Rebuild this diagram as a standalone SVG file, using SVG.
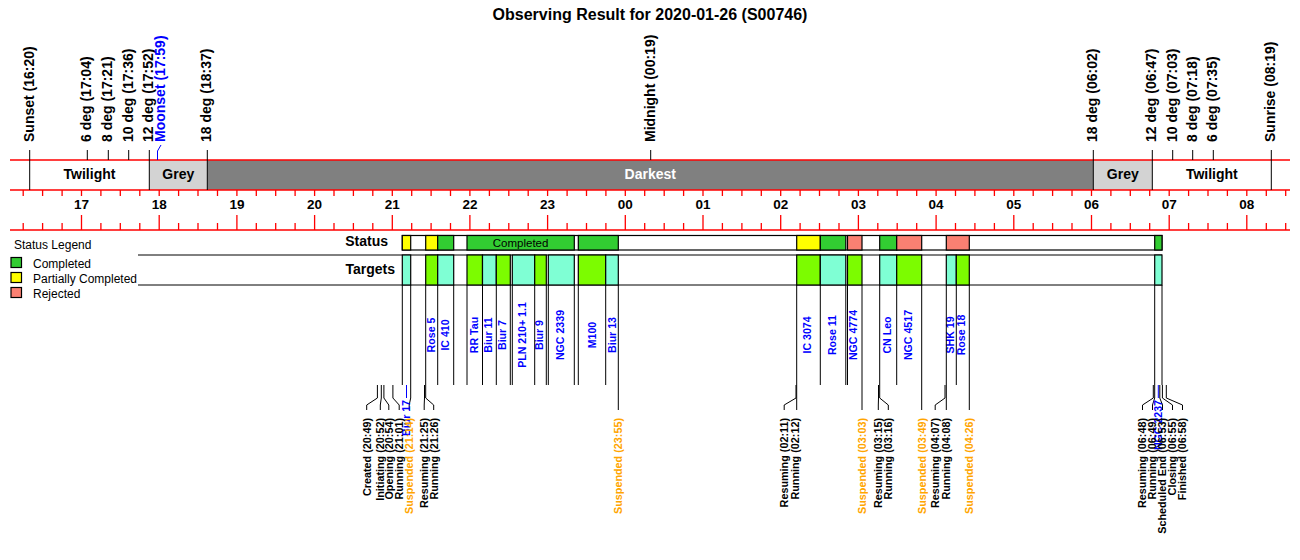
<svg xmlns="http://www.w3.org/2000/svg" width="1300" height="560" viewBox="0 0 1300 560">
<style>
text{font-family:"Liberation Sans",Arial,sans-serif;fill:#000}
.title{font-size:16px;font-weight:bold}
.top{font-size:14px;font-weight:bold}
.band{font-size:14px;font-weight:bold;text-anchor:middle}
.hr{font-size:13.5px;font-weight:bold;text-anchor:middle}
.tl{font-size:10.6px;font-weight:bold;fill:#0000FF;text-anchor:middle}
.ev{font-size:10.8px;font-weight:bold;text-anchor:end}
.susp{fill:#FFA500}
.blue{fill:#0000FF}
.leg{font-size:12px}
.rowlab{font-size:14px;font-weight:bold;text-anchor:end}
.red{stroke:#FF0000;stroke-width:1.3;fill:none}
.blk{stroke:#000;stroke-width:1;fill:none}
.box{stroke:#000;stroke-width:1.2}
.aq{fill:#7FFFD4}.lm{fill:#7CFC00}.gr{fill:#32CD32}.ye{fill:#FFFF00}.sa{fill:#FA8072}.wh{fill:#FFFFFF}
</style>
<rect width="1300" height="560" fill="#FFFFFF"/>
<text class="title" x="650" y="20" text-anchor="middle">Observing Result for 2020-01-26 (S00746)</text>

<g id="band">
<rect x="149.3" y="160" width="58" height="30" fill="#D3D3D3"/>
<rect x="207.3" y="160" width="886" height="30" fill="#808080"/>
<rect x="1093.3" y="160" width="59" height="30" fill="#D3D3D3"/>
<text class="band" x="89.5" y="179">Twilight</text>
<text class="band" x="178.3" y="179">Grey</text>
<text class="band" x="650.3" y="179" style="fill:#FFFFFF">Darkest</text>
<text class="band" x="1122.8" y="179">Grey</text>
<text class="band" x="1211.8" y="179">Twilight</text>
</g>

<g id="axis">
<path class="red" d="M10,160H1290M10,190H1290M10,230H1290"/>
<path class="red" d="M23.2,190v6M42.6,190v6M62.1,190v6M81.5,190v6M100.9,190v6M120.3,190v6M139.8,190v6M159.2,190v6M178.6,190v6M198,190v6M217.5,190v6M236.9,190v6M256.3,190v6M275.7,190v6M295.1,190v6M314.6,190v6M334,190v6M353.4,190v6M372.8,190v6M392.3,190v6M411.7,190v6M431.1,190v6M450.5,190v6M469.9,190v6M489.4,190v6M508.8,190v6M528.2,190v6M547.6,190v6M567.1,190v6M586.5,190v6M605.9,190v6M625.3,190v6M644.7,190v6M664.2,190v6M683.6,190v6M703,190v6M722.4,190v6M741.9,190v6M761.3,190v6M780.7,190v6M800.1,190v6M819.5,190v6M839,190v6M858.4,190v6M877.8,190v6M897.2,190v6M916.7,190v6M936.1,190v6M955.5,190v6M974.9,190v6M994.4,190v6M1013.8,190v6M1033.2,190v6M1052.6,190v6M1072,190v6M1091.5,190v6M1110.9,190v6M1130.3,190v6M1149.7,190v6M1169.2,190v6M1188.6,190v6M1208,190v6M1227.4,190v6M1246.8,190v6M1266.3,190v6M1285.7,190v6"/>
<path class="red" d="M23.2,223v7M42.6,223v7M62.1,223v7M81.5,215v15M100.9,223v7M120.3,223v7M139.8,223v7M159.2,215v15M178.6,223v7M198,223v7M217.5,223v7M236.9,215v15M256.3,223v7M275.7,223v7M295.1,223v7M314.6,215v15M334,223v7M353.4,223v7M372.8,223v7M392.3,215v15M411.7,223v7M431.1,223v7M450.5,223v7M469.9,215v15M489.4,223v7M508.8,223v7M528.2,223v7M547.6,215v15M567.1,223v7M586.5,223v7M605.9,223v7M625.3,215v15M644.7,223v7M664.2,223v7M683.6,223v7M703,215v15M722.4,223v7M741.9,223v7M761.3,223v7M780.7,215v15M800.1,223v7M819.5,223v7M839,223v7M858.4,215v15M877.8,223v7M897.2,223v7M916.7,223v7M936.1,215v15M955.5,223v7M974.9,223v7M994.4,223v7M1013.8,215v15M1033.2,223v7M1052.6,223v7M1072,223v7M1091.5,215v15M1110.9,223v7M1130.3,223v7M1149.7,223v7M1169.2,215v15M1188.6,223v7M1208,223v7M1227.4,223v7M1246.8,215v15M1266.3,223v7M1285.7,223v7"/>
<text class="hr" x="81.5" y="209">17</text>
<text class="hr" x="159.2" y="209">18</text>
<text class="hr" x="236.9" y="209">19</text>
<text class="hr" x="314.6" y="209">20</text>
<text class="hr" x="392.3" y="209">21</text>
<text class="hr" x="469.9" y="209">22</text>
<text class="hr" x="547.6" y="209">23</text>
<text class="hr" x="625.3" y="209">00</text>
<text class="hr" x="703" y="209">01</text>
<text class="hr" x="780.7" y="209">02</text>
<text class="hr" x="858.4" y="209">03</text>
<text class="hr" x="936.1" y="209">04</text>
<text class="hr" x="1013.8" y="209">05</text>
<text class="hr" x="1091.5" y="209">06</text>
<text class="hr" x="1169.2" y="209">07</text>
<text class="hr" x="1246.8" y="209">08</text>
</g>

<g id="sky-events">
<path class="blk" d="M29.7,150V190M87.3,150V160M108.3,150V160M128.7,150V160M149.3,150V190M207.3,150V190M650.7,150V160M1093.3,150V190M1152.3,150V190M1172.7,150V160M1192.7,150V160M1213.3,150V160M1271.3,150V190"/>
<path d="M161,145L157.5,151V160" fill="none" stroke="#0000FF" stroke-width="1"/>
<text class="top" transform="translate(33.7,142) rotate(-90)">Sunset (16:20)</text>
<text class="top" transform="translate(91.3,142) rotate(-90)">6 deg (17:04)</text>
<text class="top" transform="translate(112.3,142) rotate(-90)">8 deg (17:21)</text>
<text class="top" transform="translate(132.7,142) rotate(-90)">10 deg (17:36)</text>
<text class="top" transform="translate(153,142) rotate(-90)">12 deg (17:52)</text>
<text class="top blue" transform="translate(165,142) rotate(-90)">Moonset (17:59)</text>
<text class="top" transform="translate(211.3,142) rotate(-90)">18 deg (18:37)</text>
<text class="top" transform="translate(654.7,142) rotate(-90)">Midnight (00:19)</text>
<text class="top" transform="translate(1097.3,142) rotate(-90)">18 deg (06:02)</text>
<text class="top" transform="translate(1156.3,142) rotate(-90)">12 deg (06:47)</text>
<text class="top" transform="translate(1176.7,142) rotate(-90)">10 deg (07:03)</text>
<text class="top" transform="translate(1196.7,142) rotate(-90)">8 deg (07:18)</text>
<text class="top" transform="translate(1217.3,142) rotate(-90)">6 deg (07:35)</text>
<text class="top" transform="translate(1275.3,142) rotate(-90)">Sunrise (08:19)</text>
</g>

<g id="legend">
<text class="leg" x="14" y="249">Status Legend</text>
<rect class="box gr" x="11" y="257.5" width="10.5" height="10"/>
<rect class="box ye" x="11" y="272.5" width="10.5" height="10"/>
<rect class="box sa" x="11" y="287.5" width="10.5" height="10"/>
<text class="leg" x="33" y="267.5">Completed</text>
<text class="leg" x="33" y="282.5">Partially Completed</text>
<text class="leg" x="33" y="297.5">Rejected</text>
</g>

<g id="status-row">
<text class="rowlab" x="388" y="246">Status</text>
<rect class="box wh" x="402.3" y="235.5" width="759.7" height="14.5"/>
<rect class="box ye" x="402.3" y="235.5" width="8.4" height="14.5"/>
<rect class="box ye" x="425.7" y="235.5" width="12" height="14.5"/>
<rect class="box gr" x="437.7" y="235.5" width="16" height="14.5"/>
<rect class="box gr" x="467" y="235.5" width="107.3" height="14.5"/>
<rect class="box gr" x="578.3" y="235.5" width="40" height="14.5"/>
<rect class="box ye" x="796.7" y="235.5" width="23.6" height="14.5"/>
<rect class="box gr" x="820.3" y="235.5" width="25.5" height="14.5"/>
<rect class="box sa" x="847.5" y="235.5" width="14.5" height="14.5"/>
<rect class="box gr" x="879.7" y="235.5" width="17" height="14.5"/>
<rect class="box sa" x="896.7" y="235.5" width="25" height="14.5"/>
<rect class="box sa" x="946.3" y="235.5" width="23" height="14.5"/>
<rect class="box gr" x="1154.7" y="235.5" width="7.3" height="14.5"/>
<text x="520.6" y="246.5" style="font-size:11.5px" text-anchor="middle">Completed</text>
</g>

<g id="targets-row">
<text class="rowlab" x="395" y="274">Targets</text>
<path class="blk" d="M138,255H1162M138,285H1162" stroke-width="1.2"/>
<g id="t01"><rect class="box aq" x="402.3" y="255" width="8.4" height="30"/></g>
<g id="t02"><rect class="box lm" x="425.7" y="255" width="12" height="30"/><text class="tl" transform="translate(434.5,335) rotate(-90)">Rose 5</text></g>
<g id="t03"><rect class="box aq" x="437.7" y="255" width="16" height="30"/><text class="tl" transform="translate(448.5,335) rotate(-90)">IC 410</text></g>
<g id="t04"><rect class="box lm" x="467" y="255" width="15.5" height="30"/><text class="tl" transform="translate(477.5,335) rotate(-90)">RR Tau</text></g>
<g id="t05"><rect class="box aq" x="482.5" y="255" width="13.8" height="30"/><text class="tl" transform="translate(492,335) rotate(-90)">Biur 11</text></g>
<g id="t06"><rect class="box lm" x="496.3" y="255" width="14" height="30"/><text class="tl" transform="translate(506,335) rotate(-90)">Biur 7</text></g>
<g id="t07"><rect class="box aq" x="512.3" y="255" width="22.4" height="30"/><text class="tl" transform="translate(526.3,335) rotate(-90)">PLN 210+ 1.1</text></g>
<g id="t08"><rect class="box lm" x="534.7" y="255" width="11.6" height="30"/><text class="tl" transform="translate(543.3,335) rotate(-90)">Biur 9</text></g>
<g id="t09"><rect class="box aq" x="548.3" y="255" width="26" height="30"/><text class="tl" transform="translate(563.8,335) rotate(-90)">NGC 2339</text></g>
<g id="t10"><rect class="box lm" x="578.3" y="255" width="27.4" height="30"/><text class="tl" transform="translate(595.5,335) rotate(-90)">M100</text></g>
<g id="t11"><rect class="box aq" x="605.7" y="255" width="12.6" height="30"/><text class="tl" transform="translate(615.5,335) rotate(-90)">Biur 13</text></g>
<g id="t12"><rect class="box lm" x="796.7" y="255" width="23.6" height="30"/><text class="tl" transform="translate(810.5,335) rotate(-90)">IC 3074</text></g>
<g id="t13"><rect class="box aq" x="820.3" y="255" width="25.5" height="30"/><text class="tl" transform="translate(836.3,335) rotate(-90)">Rose 11</text></g>
<g id="t14"><rect class="box lm" x="847.5" y="255" width="14.5" height="30"/><text class="tl" transform="translate(857.2,335) rotate(-90)">NGC 4774</text></g>
<g id="t15"><rect class="box aq" x="879.7" y="255" width="17" height="30"/><text class="tl" transform="translate(891.3,335) rotate(-90)">CN Leo</text></g>
<g id="t16"><rect class="box lm" x="896.7" y="255" width="25" height="30"/><text class="tl" transform="translate(912.2,335) rotate(-90)">NGC 4517</text></g>
<g id="t17"><rect class="box aq" x="946.3" y="255" width="10" height="30"/><text class="tl" transform="translate(954.2,335) rotate(-90)">SHK 19</text></g>
<g id="t18"><rect class="box lm" x="956.3" y="255" width="13" height="30"/><text class="tl" transform="translate(965,335) rotate(-90)">Rose 18</text></g>
<g id="t19"><rect class="box aq" x="1154.7" y="255" width="7.3" height="30"/></g>
</g>

<g id="connectors">
<path class="blk" d="M402.3,285V385M410.7,285V385M425.7,285V385M437.7,285V385M453.7,285V385M467,285V385M482.5,285V385M496.3,285V385M510.3,285V385M512.3,285V385M534.7,285V385M546.3,285V385M548.3,285V385M574.3,285V385M578.3,285V385M605.7,285V385M618.3,285V385M796.7,285V385M820.3,285V385M845.8,285V385M847.5,285V385M862,285V385M879.7,285V385M896.7,285V385M921.7,285V385M946.3,285V385M956.3,285V385M969.3,285V385M1154.7,285V385M1162,285V385"/>
<path class="blk" d="M377.4,385V398L366.7,405V410M381.3,385V398L380.3,405V410M383.9,385V398L388.8,405V410M392.9,385V398L399.2,405V410M410.7,385V398L409.2,405V410M424.5,385V398L424.2,405V410M425.7,385V398L433.7,405V410M618.3,385V410M796,385V398L784.2,405V410M796.7,385V410M862,385V410M878.5,385V398L878.3,405V410M879.7,385V398L888.3,405V410M921.7,385V410M945,385V398L935.2,405V410M946.3,385V410M969.3,385V410M1153.3,385V398L1142.5,405V410M1154.7,385V398L1152.5,405V410M1159.8,385V398L1162.5,405V410M1162.4,385V398L1172.5,405V410M1166.3,385V398L1182.5,405V410"/>
<path d="M406.5,385V398M1158.3,385V398" fill="none" stroke="#0000FF" stroke-width="1"/>
</g>

<g id="event-labels">
<text class="tl" style="text-anchor:end" transform="translate(410.3,400) rotate(-90)">Biur 17</text>
<text class="tl" style="text-anchor:end" transform="translate(1162.1,400) rotate(-90)">NGC 2237</text>
<text class="ev" transform="translate(370.5,418) rotate(-90)">Created (20:49)</text>
<text class="ev" transform="translate(384.1,418) rotate(-90)">Initiating (20:52)</text>
<text class="ev" transform="translate(392.6,418) rotate(-90)">Opening (20:54)</text>
<text class="ev" transform="translate(403,418) rotate(-90)">Running (21:01)</text>
<text class="ev susp" transform="translate(413,418) rotate(-90)">Suspended (21:14)</text>
<text class="ev" transform="translate(428,418) rotate(-90)">Resuming (21:25)</text>
<text class="ev" transform="translate(437.5,418) rotate(-90)">Running (21:26)</text>
<text class="ev susp" transform="translate(622.1,418) rotate(-90)">Suspended (23:55)</text>
<text class="ev" transform="translate(788,418) rotate(-90)">Resuming (02:11)</text>
<text class="ev" transform="translate(799.3,418) rotate(-90)">Running (02:12)</text>
<text class="ev susp" transform="translate(865.8,418) rotate(-90)">Suspended (03:03)</text>
<text class="ev" transform="translate(882.1,418) rotate(-90)">Resuming (03:15)</text>
<text class="ev" transform="translate(892.1,418) rotate(-90)">Running (03:16)</text>
<text class="ev susp" transform="translate(925.8,418) rotate(-90)">Suspended (03:49)</text>
<text class="ev" transform="translate(939,418) rotate(-90)">Resuming (04:07)</text>
<text class="ev" transform="translate(949.6,418) rotate(-90)">Running (04:08)</text>
<text class="ev susp" transform="translate(973,418) rotate(-90)">Suspended (04:26)</text>
<text class="ev" transform="translate(1146.3,418) rotate(-90)">Resuming (06:48)</text>
<text class="ev" transform="translate(1156.3,418) rotate(-90)">Running (06:49)</text>
<text class="ev" transform="translate(1166.3,418) rotate(-90)">Scheduled End (06:53)</text>
<text class="ev" transform="translate(1176.3,418) rotate(-90)">Closing (06:55)</text>
<text class="ev" transform="translate(1186.3,418) rotate(-90)">Finished (06:58)</text>
</g>
</svg>
